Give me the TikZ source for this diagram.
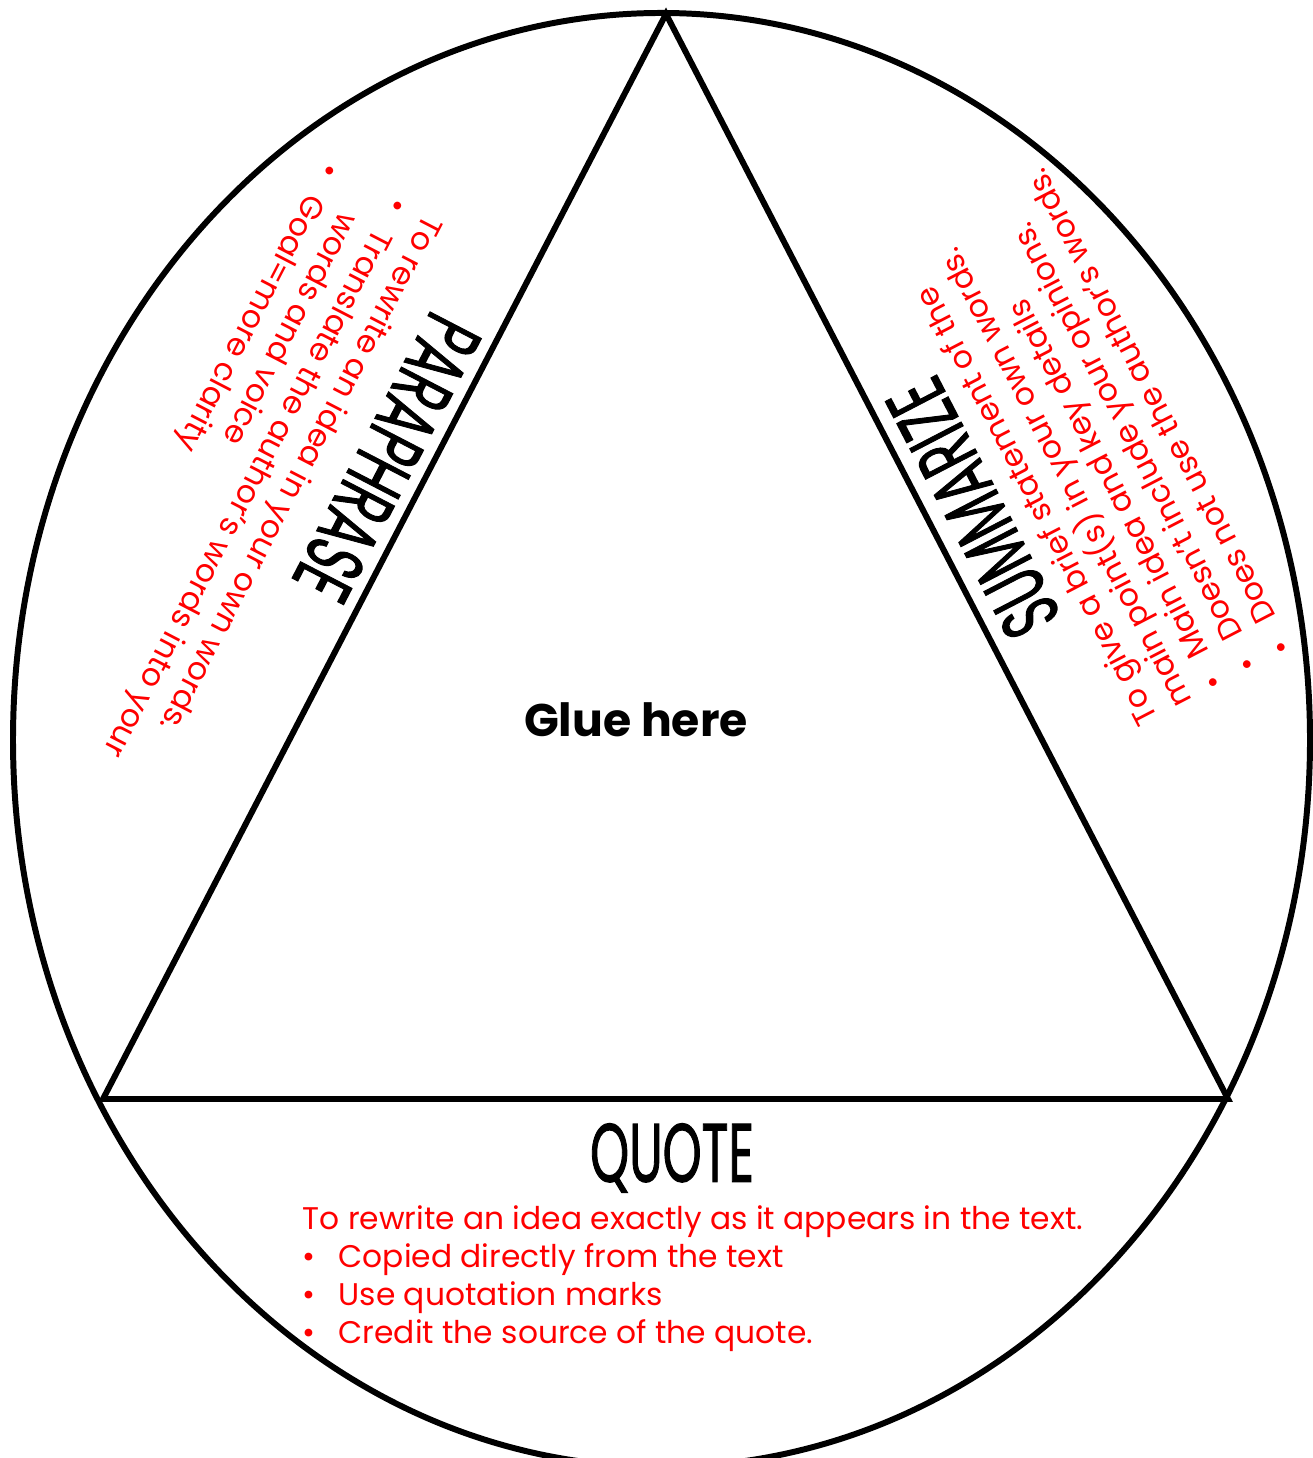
\documentclass[tikz,border=0pt]{standalone}
\usepackage{fontspec}
\setmainfont{Poppins}
\newfontfamily\handfont[FakeBold=1.6]{Poppins}
\usetikzlibrary{positioning}
\definecolor{notered}{RGB}{255,0,0}
\newcommand{\itm}{\makebox[0.36cm][l]{\textbullet}}
\newcommand{\hang}{\hspace*{0.36cm}}

\begin{document}
\begin{tikzpicture}[x=0.01cm, y=0.01cm,
  rim/.style={line width=1.7pt, black},
  hd/.style={font=\handfont\fontsize{23.5}{24}\selectfont, inner sep=0pt},
  nt/.style={text=notered, font=\fontsize{8.9}{10.8}\selectfont,
    align=left, inner sep=0pt, anchor=north west},
  glue/.style={font=\fontsize{13}{15}\selectfont\bfseries, inner sep=0pt},
]
\useasboundingbox (0,0) rectangle (1313,1458);
\draw[rim] (661.5,718) ellipse [x radius=648.5, y radius=727];
\coordinate (T) at (666,1444);
\coordinate (BL) at (103,359);
\coordinate (BR) at (1228,359);
\draw[rim, line join=miter] (T) -- (BL) -- (BR) -- cycle;
\node[glue] (glue) at (636,738) {Glue here};
% headings
\node[hd, rotate=242.6] (para) at (387,1000) {\scalebox{0.6}[1]{PARAPHRASE}};
\node[hd, rotate=117.4] (summ) at (973,950) {\scalebox{0.6}[1]{SUMMARIZE}};
\node[hd] (quote) at (672,300) {\scalebox{0.6}[1]{QUOTE}};
% notes
\node[nt, rotate=242.6] (paratxt) at (447,1234)
  {To rewrite an idea in your own words.\\
   \itm Translate the author's words into your\\
   \hang words and voice\\
   \itm Goal=more clarity};
\node[nt, rotate=117.4] (summtxt) at (1137,728)
  {To give a brief statement of the\\
   main point(s) in your own words.\\
   \itm Main idea and key details\\
   \itm Doesn't include your opinions.\\
   \itm Does not use the author's words.};
\node[nt] (quotetxt) at (302,253)
  {To rewrite an idea exactly as it appears in the text.\\
   \itm Copied directly from the text\\
   \itm Use quotation marks\\
   \itm Credit the source of the quote.};
\end{tikzpicture}
\end{document}
